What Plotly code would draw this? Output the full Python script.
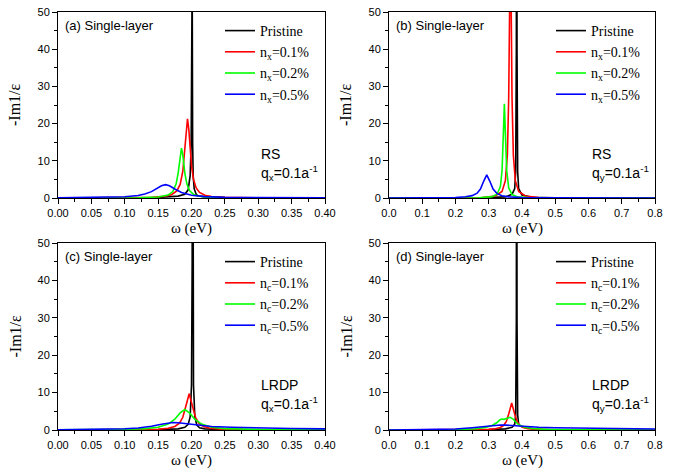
import plotly.graph_objects as go

# ---------------- data ----------------
# Panel (a): RS, q_x = 0.1/a
a_pri_x = [0.0, 0.10, 0.15, 0.18, 0.19, 0.195, 0.198, 0.1995, 0.2003, 0.201, 0.2017, 0.2025, 0.204, 0.207, 0.21, 0.22, 0.25, 0.3, 0.4]
a_pri_y = [0.0, 0.05, 0.15, 0.5, 1.0, 2.2, 6.0, 15.0, 60.0, 60.0, 15.0, 6.0, 2.5, 1.0, 0.6, 0.3, 0.1, 0.05, 0.02]
a_r_x = [0.0, 0.10, 0.14, 0.16, 0.17, 0.178, 0.183, 0.187, 0.19, 0.192, 0.194, 0.196, 0.198, 0.2, 0.203, 0.207, 0.212, 0.22, 0.23, 0.25, 0.3, 0.4]
a_r_y = [0.02, 0.06, 0.18, 0.45, 0.89, 1.9, 3.65, 7.2, 13.0, 18.4, 21.3, 18.4, 13.0, 8.7, 5.0, 2.7, 1.5, 0.76, 0.4, 0.17, 0.05, 0.02]
a_g_x = [0.0, 0.08, 0.12, 0.15, 0.165, 0.172, 0.177, 0.18, 0.183, 0.185, 0.187, 0.19, 0.193, 0.197, 0.203, 0.21, 0.22, 0.25, 0.3, 0.4]
a_g_y = [0.01, 0.03, 0.08, 0.27, 0.79, 1.73, 3.8, 6.7, 11.6, 13.4, 11.6, 6.7, 3.8, 2.0, 0.96, 0.52, 0.27, 0.08, 0.03, 0.01]
a_b_x = [0.0, 0.04, 0.08, 0.10, 0.12, 0.13, 0.14, 0.15, 0.155, 0.161, 0.167, 0.175, 0.185, 0.2, 0.22, 0.25, 0.3, 0.35, 0.4]
a_b_y = [0.055, 0.096, 0.21, 0.35, 0.69, 1.06, 1.71, 2.77, 3.3, 3.6, 3.3, 2.42, 1.48, 0.75, 0.37, 0.17, 0.07, 0.04, 0.025]

# Panel (b): RS, q_y = 0.1/a
b_pri_x = [0.0, 0.2, 0.3, 0.35, 0.37, 0.378, 0.381, 0.383, 0.384, 0.385, 0.387, 0.39, 0.4, 0.43, 0.5, 0.8]
b_pri_y = [0.0, 0.02, 0.1, 0.3, 1.0, 2.5, 7.0, 40.0, 150.0, 40.0, 7.0, 2.5, 0.8, 0.2, 0.05, 0.01]
b_r_x = [0.0, 0.2, 0.28, 0.32, 0.34, 0.35, 0.356, 0.36, 0.363, 0.365, 0.367, 0.37, 0.374, 0.38, 0.39, 0.41, 0.45, 0.5, 0.8]
b_r_y = [0.01, 0.04, 0.15, 0.55, 1.75, 4.65, 11.5, 27.0, 56.0, 70.0, 56.0, 27.0, 11.5, 4.65, 1.75, 0.55, 0.15, 0.08, 0.01]
b_g_x = [0.0, 0.2, 0.27, 0.31, 0.325, 0.335, 0.34, 0.344, 0.347, 0.35, 0.354, 0.36, 0.37, 0.385, 0.42, 0.5, 0.8]
b_g_y = [0.0, 0.024, 0.086, 0.37, 1.02, 3.1, 7.4, 17.5, 25.3, 17.5, 7.4, 2.7, 0.93, 0.35, 0.1, 0.02, 0.0]
b_b_x = [0.0, 0.1, 0.15, 0.2, 0.23, 0.25, 0.265, 0.275, 0.285, 0.294, 0.303, 0.313, 0.325, 0.34, 0.36, 0.4, 0.5, 0.6, 0.8]
b_b_y = [0.016, 0.037, 0.067, 0.15, 0.32, 0.64, 1.3, 2.4, 4.56, 6.2, 4.56, 2.4, 1.18, 0.6, 0.3, 0.12, 0.03, 0.015, 0.01]

# Panel (c): LRDP, q_x = 0.1/a
c_pri_x = [0.0, 0.1, 0.15, 0.18, 0.19, 0.195, 0.198, 0.2, 0.201, 0.2015, 0.202, 0.203, 0.205, 0.208, 0.212, 0.22, 0.25, 0.3, 0.4]
c_pri_y = [0.0, 0.03, 0.1, 0.3, 0.7, 1.5, 3.5, 12.0, 45.0, 150.0, 45.0, 12.0, 3.5, 1.3, 0.6, 0.3, 0.1, 0.05, 0.02]
c_r_x = [0.0, 0.08, 0.12, 0.15, 0.165, 0.175, 0.182, 0.187, 0.191, 0.1965, 0.202, 0.206, 0.211, 0.218, 0.228, 0.245, 0.28, 0.33, 0.4]
c_r_y = [0.012, 0.035, 0.08, 0.22, 0.46, 0.93, 1.83, 3.4, 6.0, 9.7, 6.0, 3.4, 1.83, 0.93, 0.46, 0.2, 0.07, 0.03, 0.01]
c_g_x = [0.0, 0.06, 0.1, 0.13, 0.15, 0.165, 0.175, 0.183, 0.19, 0.197, 0.205, 0.215, 0.23, 0.25, 0.28, 0.32, 0.4]
c_g_y = [0.038, 0.081, 0.17, 0.36, 0.75, 1.59, 2.9, 4.58, 5.46, 4.58, 2.9, 1.59, 0.75, 0.36, 0.17, 0.08, 0.04]
c_b_x = [0.0, 0.04, 0.08, 0.1, 0.12, 0.14, 0.155, 0.165, 0.172, 0.18, 0.19, 0.2, 0.21, 0.23, 0.26, 0.3, 0.35, 0.4]
c_b_y = [0.05, 0.1, 0.2, 0.32, 0.55, 1.0, 1.55, 1.9, 2.0, 1.95, 1.75, 1.45, 1.2, 0.95, 0.75, 0.55, 0.4, 0.3]

# Panel (d): LRDP, q_y = 0.1/a
d_pri_x = [0.0, 0.2, 0.3, 0.35, 0.37, 0.378, 0.381, 0.383, 0.384, 0.385, 0.387, 0.39, 0.395, 0.4, 0.42, 0.45, 0.5, 0.8]
d_pri_y = [0.0, 0.03, 0.1, 0.3, 0.7, 1.5, 4.0, 30.0, 150.0, 30.0, 4.0, 1.5, 1.1, 0.9, 0.5, 0.2, 0.08, 0.02]
d_r_x = [0.0, 0.15, 0.22, 0.27, 0.3, 0.32, 0.335, 0.345, 0.353, 0.36, 0.369, 0.378, 0.385, 0.393, 0.403, 0.418, 0.44, 0.48, 0.55, 0.8]
d_r_y = [0.006, 0.018, 0.039, 0.088, 0.18, 0.35, 0.68, 1.25, 2.3, 4.3, 7.2, 4.3, 2.3, 1.25, 0.68, 0.35, 0.17, 0.07, 0.027, 0.005]
d_g_x = [0.0, 0.15, 0.22, 0.26, 0.29, 0.31, 0.325, 0.333, 0.339, 0.346, 0.352, 0.358, 0.364, 0.372, 0.38, 0.39, 0.405, 0.43, 0.47, 0.55, 0.8]
d_g_y = [0.01, 0.05, 0.15, 0.35, 0.7, 1.2, 2.0, 2.7, 2.95, 2.85, 3.05, 3.35, 3.4, 3.0, 2.2, 1.4, 0.8, 0.4, 0.2, 0.08, 0.02]
d_b_x = [0.0, 0.1, 0.15, 0.2, 0.25, 0.28, 0.3, 0.32, 0.335, 0.35, 0.37, 0.4, 0.45, 0.5, 0.6, 0.7, 0.8]
d_b_y = [0.02, 0.06, 0.12, 0.25, 0.6, 0.9, 1.1, 1.28, 1.35, 1.3, 1.15, 0.95, 0.75, 0.6, 0.42, 0.32, 0.25]

panel_labels = ["(a) Single-layer", "(b) Single-layer", "(c) Single-layer", "(d) Single-layer"]
model_labels = ["RS", "RS", "LRDP", "LRDP"]
q_labels = ["q<sub>x</sub>=0.1a<sup>-1</sup>", "q<sub>y</sub>=0.1a<sup>-1</sup>",
            "q<sub>x</sub>=0.1a<sup>-1</sup>", "q<sub>y</sub>=0.1a<sup>-1</sup>"]
series_names_x = ["Pristine", "n<sub>x</sub>=0.1%", "n<sub>x</sub>=0.2%", "n<sub>x</sub>=0.5%"]
series_names_c = ["Pristine", "n<sub>c</sub>=0.1%", "n<sub>c</sub>=0.2%", "n<sub>c</sub>=0.5%"]
colors = ["#000000", "#FF0000", "#00FF00", "#0000FF"]

panels = [
    ([(a_pri_x, a_pri_y), (a_r_x, a_r_y), (a_g_x, a_g_y), (a_b_x, a_b_y)], series_names_x),
    ([(b_pri_x, b_pri_y), (b_r_x, b_r_y), (b_g_x, b_g_y), (b_b_x, b_b_y)], series_names_x),
    ([(c_pri_x, c_pri_y), (c_r_x, c_r_y), (c_g_x, c_g_y), (c_b_x, c_b_y)], series_names_c),
    ([(d_pri_x, d_pri_y), (d_r_x, d_r_y), (d_g_x, d_g_y), (d_b_x, d_b_y)], series_names_c),
]

W, H = 683, 470
# plot areas in pixels (left, right, top, bottom)
boxes = [(58, 325, 12, 198), (389, 655, 12, 198), (58, 325, 243, 430), (389, 655, 243, 430)]
xranges = [[0, 0.4], [0, 0.8], [0, 0.4], [0, 0.8]]

fig = go.Figure()
legend_keys = ["legend", "legend2", "legend3", "legend4"]
for i, (series, names) in enumerate(panels):
    xa = "x" if i == 0 else f"x{i+1}"
    ya = "y" if i == 0 else f"y{i+1}"
    for j, ((xs, ys), nm) in enumerate(zip(series, names)):
        fig.add_trace(go.Scatter(x=xs, y=ys, mode="lines", name=nm,
                                 line=dict(color=colors[j], width=1.6),
                                 xaxis=xa, yaxis=ya, legend=legend_keys[i]))

layout = dict(width=W, height=H, margin=dict(l=0, r=0, t=0, b=0, autoexpand=False),
              paper_bgcolor="white", plot_bgcolor="white", showlegend=True)

tick_font = dict(family="Liberation Sans, Arial", size=11, color="black")
serif = "Liberation Serif, Times New Roman"
annotations = []
for i, (l, r, t, b) in enumerate(boxes):
    sfx = "" if i == 0 else str(i + 1)
    xd = [l / W, r / W]
    yd = [1 - b / H, 1 - t / H]
    wide = xranges[i][1] > 0.5
    layout["xaxis" + sfx] = dict(
        domain=xd, range=xranges[i], anchor="y" + sfx, automargin=False,
        dtick=0.1 if wide else 0.05, tickformat=".1f" if wide else ".2f",
        ticks="outside", ticklen=5, tickwidth=1, tickcolor="black",
        minor=dict(ticks="outside", ticklen=3, dtick=0.05 if wide else 0.025, tickcolor="black"),
        showline=True, linecolor="black", linewidth=1, mirror=True,
        showgrid=False, zeroline=False, tickfont=tick_font)
    layout["yaxis" + sfx] = dict(
        domain=yd, range=[0, 50], anchor="x" + sfx, automargin=False, dtick=10,
        ticks="outside", ticklen=5, tickwidth=1, tickcolor="black",
        minor=dict(ticks="outside", ticklen=3, dtick=5, tickcolor="black"),
        showline=True, linecolor="black", linewidth=1, mirror=True,
        showgrid=False, zeroline=False, tickfont=tick_font)
    key = legend_keys[i]
    layout[key] = dict(x=(l + 162) / W, y=1 - (t + 3) / H, xanchor="left", yanchor="top",
                       bgcolor="rgba(0,0,0,0)", borderwidth=0,
                       font=dict(family=serif, size=14, color="black"),
                       tracegroupgap=0, itemwidth=30)
    # axis titles
    annotations.append(dict(text="ω (eV)", x=((l + r) / 2) / W, y=1 - (b + 30) / H,
                            xref="paper", yref="paper", xanchor="center", yanchor="middle",
                            showarrow=False, font=dict(family=serif, size=15, color="black")))
    annotations.append(dict(text="-Im1/ε", x=(l - 43) / W, y=1 - ((t + b) / 2) / H,
                            xref="paper", yref="paper", xanchor="center", yanchor="middle",
                            textangle=-90, showarrow=False,
                            font=dict(family=serif, size=16, color="black")))
    annotations.append(dict(text=panel_labels[i], x=(l + 5) / W, y=1 - (t + 13) / H,
                            xref="paper", yref="paper", xanchor="left", yanchor="middle",
                            showarrow=False, font=dict(family="Liberation Sans, Arial", size=13, color="black")))
    annotations.append(dict(text=model_labels[i], x=(l + 201) / W, y=1 - (t + 142) / H,
                            xref="paper", yref="paper", xanchor="left", yanchor="middle",
                            showarrow=False, font=dict(family="Liberation Sans, Arial", size=14, color="black")))
    annotations.append(dict(text=q_labels[i], x=(l + 201) / W, y=1 - (t + 161) / H,
                            xref="paper", yref="paper", xanchor="left", yanchor="middle",
                            showarrow=False, font=dict(family="Liberation Sans, Arial", size=14, color="black")))
layout["annotations"] = annotations
fig.update_layout(**layout)
fig.write_html("out.html", config={"displayModeBar": False},
               post_script="document.body.style.margin='0';document.body.style.padding='0';")
